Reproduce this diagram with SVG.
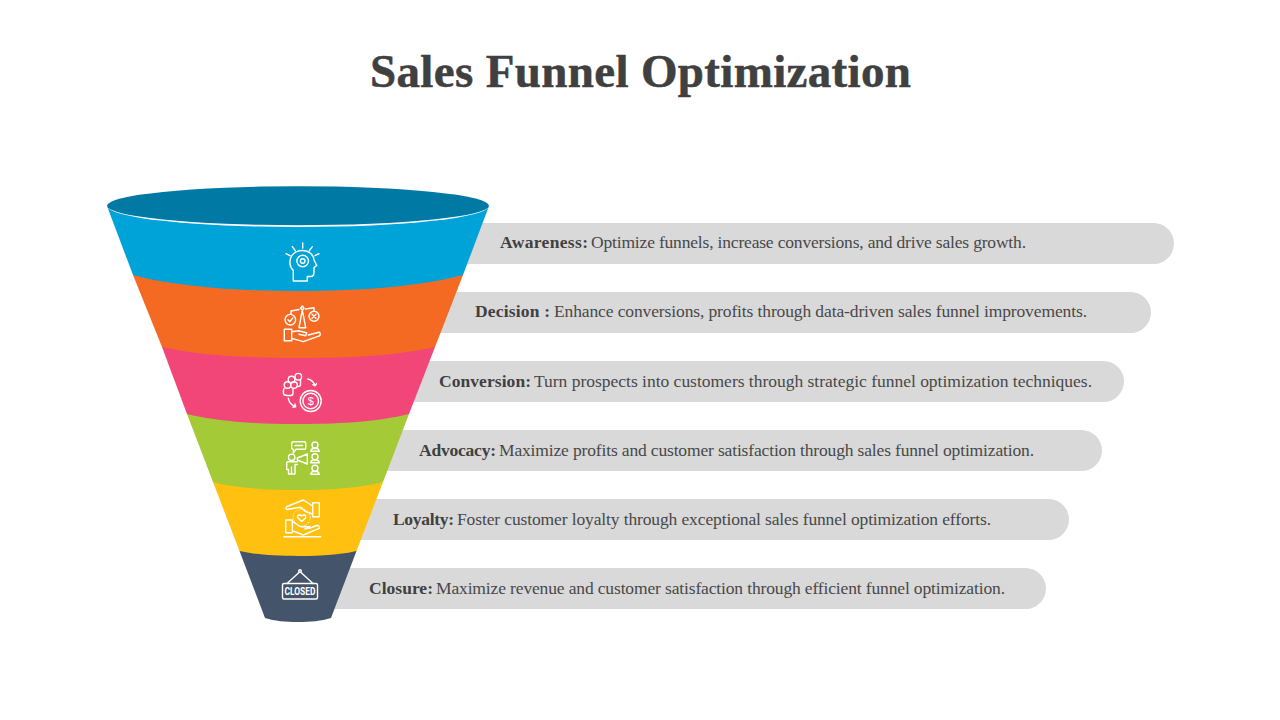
<svg xmlns="http://www.w3.org/2000/svg" width="1280" height="720" viewBox="0 0 1280 720">
<style>
.t{font-family:"Liberation Serif","DejaVu Serif",serif;fill:#404040}
.title{font-size:47px;font-weight:700;text-anchor:middle;stroke:#404040;stroke-width:.5}
.b{font-size:17.5px;font-weight:700}
.r{font-size:17.5px;fill:#484848}
.bar{fill:#d9d9d9}
.i{fill:none;stroke:#fff;stroke-width:1.4;stroke-linecap:round;stroke-linejoin:round}
.d{stroke-width:1;stroke-dasharray:.5 2}
.m{font-family:"Liberation Sans",sans-serif;fill:#fff}
</style>
<rect width="1280" height="720" fill="#fff"/>
<text class="t title" x="640.5" y="87" textLength="541" lengthAdjust="spacing">Sales Funnel Optimization</text>
<g id="row-bars">
<rect class="bar" x="440" y="223" width="734" height="41" rx="20.5"/>
<rect class="bar" x="420" y="292" width="731" height="41" rx="20.5"/>
<rect class="bar" x="390" y="361" width="734" height="41" rx="20.5"/>
<rect class="bar" x="370" y="430" width="732" height="41" rx="20.5"/>
<rect class="bar" x="340" y="499" width="729" height="41" rx="20.5"/>
<rect class="bar" x="310" y="568" width="736" height="41" rx="20.5"/>
</g>
<g id="closure">
<path d="M241 545H355V548L356.500 551L331 618C321 621 311 622 298 622C285 622 275 621 265 618L239.500 551Z" fill="#44546a"/>
<g class="i"><rect x="282.500" y="583.500" width="35" height="15.500" rx="1.500"/><path d="M287 583.500L299 572.500M313 583.500L301 572.500"/><circle cx="300" cy="571" r="1.300"/></g>
<text class="m" x="300" y="595" text-anchor="middle" font-size="11" font-weight="700" textLength="31" lengthAdjust="spacingAndGlyphs" style="font-family:Roboto,sans-serif">CLOSED</text>
</g>
<g id="loyalty">
<path d="M215 478H381L383 482L356.500 551C341 554.500 324 556 298 556C272 556 255 554.500 239.500 551L213 482Z" fill="#ffc010"/>
<g class="i"><path d="M284 536.700H320.700M285.700 520H292.300V532.700H285.700ZM292.300 521.700C296 522 298 526.700 301 526.700H310Q309 528.500 305 528.800M292.300 530.700L303.300 535L319.300 528.300Q319.500 525 316.500 525.500L309 528.500M312.700 502.700H319.300V516.700H312.700ZM312.700 506L303.300 500L287 506.500Q285 508.500 287 509.500L300 507.300C303 508 304 511.500 306.700 512L312.700 514"/><path d="M301.700 521.500L298 518Q296.800 515.500 299 515Q300.800 514.800 301.700 516Q302.600 514.800 304.400 515Q306.600 515.500 305.400 518Z"/><circle class="d" cx="301.700" cy="517.500" r="8.500"/></g>
</g>
<g id="advocacy">
<path d="M190 408H406L409 414L383 482C361 487.600 335 490 298 490C261 490 235 487.600 213 482L187 414Z" fill="#a4ca37"/>
<g class="i"><path d="M293 441.700H304.500Q305.700 441.700 305.700 443V448Q305.700 449.300 304.500 449.300H296L293.300 452.700V449.300H293Q291.700 449.300 291.700 448V443Q291.700 441.700 293 441.700ZM295 445.500H302.500"/><circle cx="291.700" cy="457.300" r="3.200"/><path d="M297.300 461.700H288Q286.700 461.700 286.700 463V469.500H288.500V474H295V464.500H297.300M291.500 467V474M297.300 458L307.300 454V464L297.300 460Z"/><circle cx="315" cy="445" r="3"/><path d="M310.700 451.300Q311 448.800 313 448.500H317Q319 448.800 319.300 451.300Z"/><circle cx="315" cy="456.700" r="3"/><path d="M310.700 462.800Q311 460.300 313 460H317Q319 460.300 319.300 462.800Z"/><circle cx="315" cy="468.300" r="3"/><path d="M310.700 474.300Q311 471.800 313 471.500H317Q319 471.800 319.300 474.300Z"/></g>
</g>
<g id="conversion">
<path d="M165 340H432L435 347L409 414C380 421 346 424 298 424C250 424 216 421 187 414L162 347Z" fill="#f14677"/>
<g class="i"><circle cx="298.300" cy="376.700" r="3.300"/><circle cx="291.500" cy="379.500" r="3.300"/><circle cx="287.500" cy="385" r="3.300"/><circle cx="294" cy="385" r="3.300"/><path d="M300.500 380V384.500Q300.500 386.500 298 386.500M284 388.500Q283 391 283.500 393.500Q284 395.500 287 395.500H291Q293 395.500 293 393V389M307.700 379Q313 380 315 385.700M312.800 384.700L315 385.700L316.500 383.800M288.300 398.300Q289.500 404.500 295.700 406.700M292.800 407.200L295.700 406.700L295 404"/><circle cx="310.700" cy="401" r="10.500"/><circle cx="310.700" cy="401" r="7.800"/></g>
<text class="m" x="310.700" y="405" text-anchor="middle" font-size="11">$</text>
</g>
<g id="decision">
<path d="M135 270H461L463 275L435 347C399.500 355 358 358 298.500 358C239 358 197.500 355 162 347L133 275Z" fill="#f46a22"/>
<g class="i"><path d="M291 311L299 309.500M305.500 309L314 307.700M291 311V314.400M314 307.700V311.300M302.300 310L299 327.700H305.700ZM302.300 306L304 308.200L302.300 310L300.600 308.200Z"/><circle cx="290.300" cy="319.700" r="5.300"/><circle cx="314" cy="316.300" r="5"/><path d="M288 319.700L289.800 321.700L292.800 318M312 314.300L316 318.300M316 314.300L312 318.300M284.300 329.300H291.700V340.700H284.300ZM291.700 331.700L298.300 330.700L306.700 332.700L305.700 335.700L299 334.300M291.700 338.300L303.300 341.700L320 335.700Q320.500 332 319 332.300L308.300 335"/></g>
</g>
<g id="awareness">
<path d="M107 206H489L463 275C420 286.500 361 291 298 291C235 291 176 286.500 133 275Z" fill="#00a3d8"/>
<path d="M107 206A191 21 0 0 0 489 206Z" fill="#fff"/>
<ellipse cx="298" cy="205.700" rx="191" ry="19.500" fill="#0079a5"/>
<g class="i"><path d="M293.300 281V270.500C290 267 289.500 262 290.500 258.500C292 253.500 297 250.500 302.700 250.500C309 250.500 313.500 254.500 314 260L316.800 265.500L314 267.500V272.500C314 275 312.500 276.500 310.500 276.500H307.300V281ZM302.700 243V248M292.300 246.700L295.300 250.700M286 253.700L290 255.700M312.300 246.700L309.300 250.700M319 253.700L315 255.700"/><circle cx="302.700" cy="261" r="5.800"/><circle cx="302.700" cy="261" r="2.300"/></g>
</g>
<g id="labels">
<text class="t b" x="500" y="248" textLength="88">Awareness:</text><text class="t r" x="591" y="248" textLength="435">Optimize funnels, increase conversions, and drive sales growth.</text>
<text class="t b" x="475" y="317" textLength="75">Decision :</text><text class="t r" x="554" y="317" textLength="533">Enhance conversions, profits through data-driven sales funnel improvements.</text>
<text class="t b" x="439" y="387" textLength="92">Conversion:</text><text class="t r" x="534" y="387" textLength="558">Turn prospects into customers through strategic funnel optimization techniques.</text>
<text class="t b" x="419" y="456" textLength="77">Advocacy:</text><text class="t r" x="499" y="456" textLength="535">Maximize profits and customer satisfaction through sales funnel optimization.</text>
<text class="t b" x="393" y="525" textLength="61">Loyalty:</text><text class="t r" x="457" y="525" textLength="534">Foster customer loyalty through exceptional sales funnel optimization efforts.</text>
<text class="t b" x="369" y="594" textLength="64">Closure:</text><text class="t r" x="436" y="594" textLength="569">Maximize revenue and customer satisfaction through efficient funnel optimization.</text>
</g>
</svg>
